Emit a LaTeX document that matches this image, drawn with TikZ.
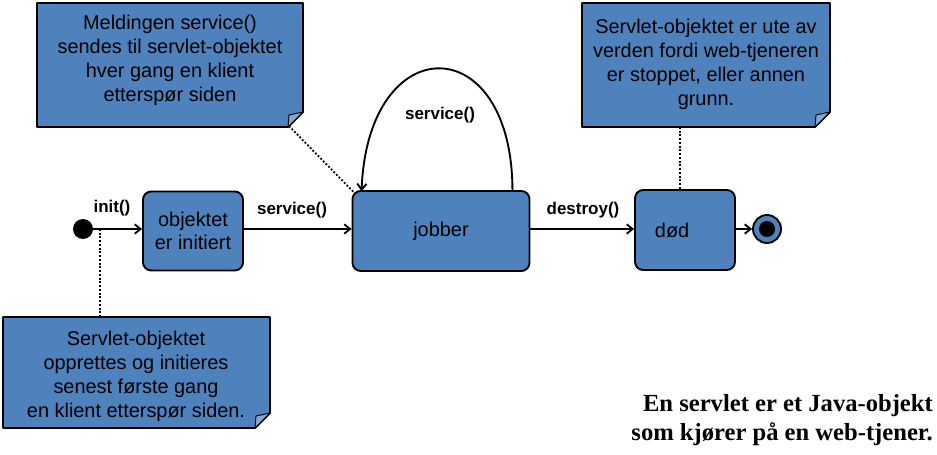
\documentclass[tikz,border=0pt]{standalone}
\usepackage{fontspec}
\setmainfont{Liberation Sans}
\newfontfamily\boldserif{Liberation Serif}
\usetikzlibrary{arrows.meta}
\definecolor{stateblue}{HTML}{4F81BD}
% note with a folded corner: x1,y1,x2,y2 in picture units
\newcommand\notebox[4]{%
  \filldraw[fill=stateblue,line width=1.6pt,line join=round] (#1,#2)--(#3,#2)--(#3,#4-15)--(#3-15,#4)--(#1,#4)--cycle;
  \filldraw[fill=stateblue!70!white,line width=.8pt,line join=round] (#3,#4-15)--(#3-14,#4-12)--(#3-15,#4)--cycle;}
\begin{document}
\begin{tikzpicture}[x=.03cm,y=-.03cm,line cap=round,
  state/.style={draw,line width=1.6pt,fill=stateblue,rounded corners=7pt,align=center,inner sep=0pt,font=\fontsize{17}{19}\selectfont},
  notetext/.style={align=center,inner sep=0pt,font=\fontsize{17}{20.5}\selectfont},
  trans/.style={line width=1.6pt,-{Straight Barb[length=5pt,width=8pt]}},
  noteline/.style={line width=1.5pt,line cap=butt,dash pattern=on 1.6pt off 1.6pt},
  lbl/.style={font=\bfseries\fontsize{14.5}{16}\selectfont}]
  \useasboundingbox (0,0) rectangle (937,455);
  % notes
  \notebox{37}{3}{303}{127} \notebox{3}{317}{270}{428} \notebox{582}{3}{830}{127}
  \node[notetext] (n1) at (170,60) {Meldingen service()\\sendes til servlet-objektet\\hver gang en klient\\etterspør siden};
  \node[notetext] (n2) at (136,376) {Servlet-objektet\\opprettes og initieres\\senest første gang\\en klient etterspør siden.};
  \node[notetext] (n3) at (706,64) {Servlet-objektet er ute av\\verden fordi web-tjeneren\\er stoppet, eller annen\\grunn.};
  \coordinate (n1tip) at (289,126); \coordinate (n2top) at (100,317); \coordinate (n3bot) at (680,127);
  % states
  \node[state,minimum width=3cm,minimum height=2.37cm] (init) at (193,231) {objektet\\er initiert};
  \node[state,minimum width=5.31cm,minimum height=2.4cm] (jobb) at (441,231) {jobber};
  \node[state,minimum width=3cm,minimum height=2.4cm] (dod) at (685,230) {død\hspace{22pt}};
  \node[circle,fill=black,minimum size=.6cm,inner sep=0pt] (start) at (83,229) {};
  \node[circle,draw,line width=1.6pt,fill=stateblue,minimum size=.84cm,inner sep=0pt] (slutt) at (767,229) {};
  \node[circle,fill=black,minimum size=.48cm,inner sep=0pt] at (slutt) {};
  % transitions
  \draw[trans] (start) -- (init.west |- start);
  \draw[trans] (init.east |- start) -- (jobb.west |- start);
  \draw[trans] (jobb.east |- start) -- (dod.west |- start);
  \draw[trans] (dod.east |- start) -- (slutt);
  \draw[trans] ([shift={(-18,0)}]jobb.north east) .. controls (512,28) and (368,28) .. ([shift={(10,1)}]jobb.north west);
  \node[lbl] at (112,208) {init()}; \node[lbl] at (292,210) {service()}; \node[lbl] at (583,210) {destroy()}; \node[lbl] at (440,115) {service()};
  % note lines
  \draw[noteline] (n1tip) -- ([shift={(3,3)}]jobb.north west);
  \draw[noteline] (start -| n2top) -- (n2top);
  \draw[noteline] (n3bot) -- (dod.north -| n3bot);
  \node[anchor=south east,align=right,inner sep=0pt,font=\boldserif\bfseries\fontsize{21}{25}\selectfont] (tekst) at (933,446) {En servlet er et Java-objekt\\som kjører på en web-tjener.};
\end{tikzpicture}
\end{document}
